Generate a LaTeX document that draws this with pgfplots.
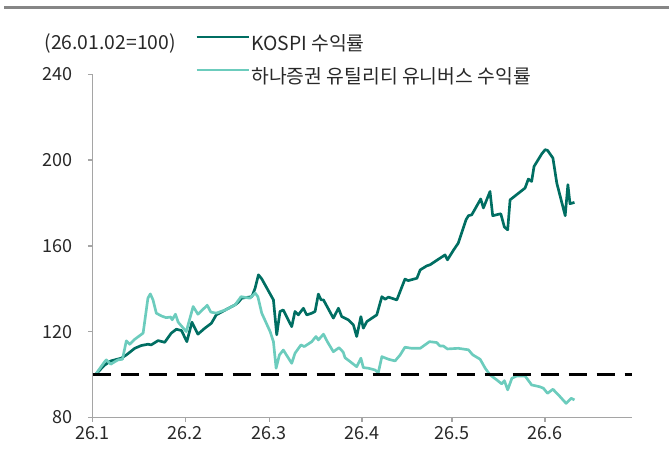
\documentclass[border=0pt]{standalone}
\usepackage{fontspec}
\setmainfont{Noto Sans CJK KR}
\usepackage{pgfplots}
\pgfplotsset{compat=1.18}
\definecolor{kospi}{RGB}{0,110,98}
\definecolor{hana}{RGB}{108,204,189}
\definecolor{axisgray}{RGB}{165,165,165}
\definecolor{txt}{RGB}{40,40,40}

\begin{document}
\begin{tikzpicture}
\useasboundingbox (0,0) rectangle (501.75pt,345.75pt);
\draw[line width=2.25pt, color=gray!95] (3pt,339.75pt) -- (501.75pt,339.75pt);
\begin{axis}[
    at={(69.375pt,32.775pt)}, anchor=south west,
    scale only axis, width=404.4pt, height=257.1pt,
    xmin=0, xmax=180, ymin=80, ymax=240,
    axis x line*=bottom, axis y line*=left,
    axis line style={axisgray, line width=1.1pt},
    xtick={0,31,59,90,120,151},
    xticklabels={26.1,26.2,26.3,26.4,26.5,26.6},
    ytick={80,120,160,200,240},
    tick align=outside, major tick length=3.5pt,
    tick style={axisgray, line width=1.1pt},
    ticklabel style={font=\fontsize{13.5}{15}\selectfont, text=txt},
    yticklabel style={xshift=-8pt},
    /pgf/number format/assume math mode=true,
    clip=false,
    legend cell align=left,
    legend style={at={(axis description cs:0.19,1.114)}, anchor=north west,
        draw=none, fill=none, inner sep=0pt, row sep=10.75pt, column sep=1pt,
        font=\fontsize{14.5}{16}\selectfont, text=txt,
        nodes={inner sep=0pt, text height=11pt, text depth=3pt}},
    legend image code/.code={\draw[#1] (0pt,6pt) -- (39pt,6pt);},
]
% KOSPI
\addplot[kospi, line width=2pt, line join=round] coordinates {
(1,100)(4.1,104.4)(6.1,106.3)(9.6,107.6)(11.3,109.1)(14.1,112.2)(16.3,113.5)
(18.5,114.1)(19.6,113.8)(21.9,115.8)(24.1,115.0)(26.3,119.3)(28.0,121.1)
(29.7,120.5)(31.5,115.3)(33.2,124.4)(35.2,118.8)(37.5,121.6)(39.7,123.9)
(41.3,127.8)(44.5,130.2)(47.6,132.5)(48.7,133.7)(49.8,135.6)(53.2,136.3)
(54.3,140.3)(55.4,146.5)(56.5,144.6)(60.4,134.8)(61.5,118.5)(62.6,129.4)
(63.7,130.1)(66.5,122.3)(67.6,129.4)(68.7,127.8)(70.4,130.9)(71.5,127.8)
(73.2,128.6)(74.3,129.4)(75.4,137.5)(76.3,134.8)(77.1,134.8)(80.4,126.3)
(82.1,130.9)(83.2,127.0)(85.4,125.5)(87.1,123.1)(88.2,117.7)(89.6,127.0)
(90.4,121.6)(91.6,124.7)(94.9,127.8)(96.6,136.3)(97.7,135.1)(98.8,136.1)
(101.6,134.8)(104.3,144.5)(105.4,143.8)(108.3,144.9)(109.4,148.8)(111.6,150.7)
(112.7,151.2)(115.5,153.8)(117.7,155.8)(118.5,153.5)(120.5,158.0)(122.1,161.3)
(124.7,172.2)(125.5,174.1)(126.6,174.5)(129.6,181.9)(130.5,177.7)(132.7,185.4)
(133.6,174.1)(136.3,175.0)(137.5,168.8)(138.6,167.5)(139.4,181.5)(144.4,187.0)
(145.5,191.2)(146.6,190.1)(147.4,197.1)(150.0,203.0)(151.1,204.9)(151.9,204.6)
(153.7,201.0)(155.0,189.3)(157.8,174.1)(158.7,188.6)(159.4,179.7)(160.9,180.3)
};
\addlegendentry{KOSPI 수익률}
% 하나증권 유틸리티 유니버스
\addplot[hana, line width=2pt, line join=round] coordinates {
(1,100)(4.1,106.0)(4.6,106.8)(6.1,104.8)(8.5,106.8)(10.0,107.1)(11.3,115.7)
(12.4,114.1)(14.1,116.4)(16.9,119.3)(18.5,135.6)(19.3,137.6)(20.2,134.8)
(21.3,128.6)(23.0,127.3)(24.6,126.5)(26.1,126.8)(26.6,125.5)(27.7,128.1)
(28.6,124.4)(31.3,120.0)(33.6,131.7)(35.2,128.1)(38.3,132.3)(39.5,129.1)
(41.3,128.6)(44.5,130.2)(47.6,132.5)(49.6,136.3)(52.6,135.6)(54.3,138.0)
(55.2,136.3)(56.5,128.6)(59.3,120.0)(60.4,115.3)(61.3,102.9)(62.4,109.1)
(63.7,111.4)(66.5,105.2)(67.6,109.9)(69.6,113.8)(70.7,113.0)(73.2,115.3)
(74.6,117.7)(75.4,116.1)(77.1,118.8)(78.4,115.3)(80.4,110.6)(82.3,112.5)
(83.7,110.4)(84.3,107.8)(86.0,106.0)(88.2,103.6)(89.6,107.6)(90.4,103.2)
(92.1,102.9)(94.3,102.1)(95.4,100.8)(96.6,108.3)(98.8,107.1)(101.0,106.3)
(102.7,109.1)(104.3,112.7)(106.6,112.2)(109.4,112.2)(112.5,115.3)(114.9,114.9)
(116.0,113.3)(117.1,113.3)(118.5,111.9)(122.1,112.2)(125.5,111.5)(126.9,109.2)
(129.4,107.1)(131.1,102.9)(132.7,99.8)(135.0,97.4)(136.6,95.6)(137.5,97.1)
(138.6,92.8)(140.0,98.2)(141.6,99.3)(144.4,99.3)(146.6,95.1)(149.2,94.3)
(150.5,93.6)(151.9,91.2)(153.7,93.1)(156.1,89.6)(158.1,86.5)(159.8,88.9)
(160.9,88.1)
};
\addlegendentry{하나증권 유틸리티 유니버스 수익률}
% 기준선 100
\addplot[black, line width=2.2pt, dash pattern=on 14pt off 7pt, forget plot]
    coordinates {(0,100)(180,100)};
\end{axis}
\node[anchor=base east, inner sep=0pt, font=\fontsize{14.5}{16}\selectfont, text=txt]
    at (132pt,308.25pt) {(26.01.02=100)};
\end{tikzpicture}
\end{document}
